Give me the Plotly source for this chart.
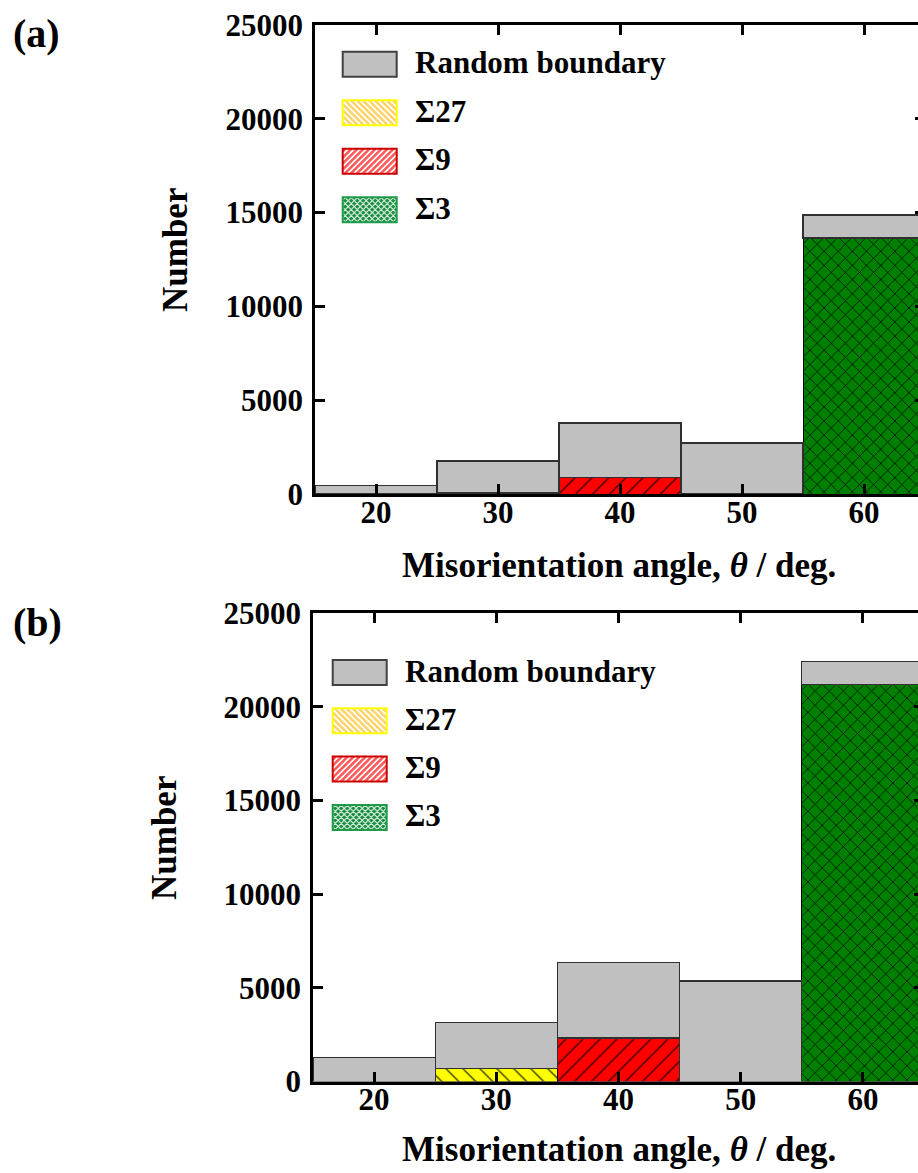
import plotly.graph_objects as go

# ---------------- data ----------------
angles = [20, 30, 40, 50, 60]          # bin centres (deg), bins 10 deg wide
bin_width = 10

# panel (a)
random_a = [440, 1710, 2900, 2720, 1220]
sigma27_a = [0, 50, 0, 0, 0]
sigma9_a = [0, 0, 890, 0, 0]
sigma3_a = [0, 0, 0, 0, 13650]

# panel (b)
random_b = [1280, 2480, 4030, 5370, 1200]
sigma27_b = [0, 690, 0, 0, 0]
sigma9_b = [0, 0, 2320, 0, 0]
sigma3_b = [0, 0, 0, 0, 21210]

x_ticks = [20, 30, 40, 50, 60]
y_ticks = [0, 5000, 10000, 15000, 20000, 25000]
y_tick_text = ["0", "5000", "10000", "15000", "20000", "25000"]
legend_labels = ["Random boundary", "Σ27", "Σ9", "Σ3"]
panel_labels = ["(a)", "(b)"]
x_title = "Misorientation angle, <i>θ</i> / deg."
y_title = "Number"

# ---------------- style ----------------
W, H = 935, 1173
FONT = "Liberation Serif, Times New Roman, serif"
GRAY = "#c0c0c0"
YELLOW = "#ffff00"
RED = "#ff0000"
GREEN = "#008000"


def px(p):
    return p / W


def py(p):
    return 1 - p / H


panels = [
    dict(random=random_a, s27=sigma27_a, s9=sigma9_a, s3=sigma3_a,
         xpx=(315, 925), ypx=(25, 494), xa="x", ya="y",
         label_pos=(11, 33), leg_x=342.7, leg_y0=64.2, leg_dy=48.5, leg_tx=412.5,
         xt_pos=(619, 565), yt_pos=(176, 250)),
    dict(random=random_b, s27=sigma27_b, s9=sigma9_b, s3=sigma3_b,
         xpx=(313, 924), ypx=(613.3, 1081.5), xa="x2", ya="y2",
         label_pos=(11, 622), leg_x=332.7, leg_y0=672.5, leg_dy=48.3, leg_tx=403.3,
         xt_pos=(619, 1149), yt_pos=(164, 838)),
]

fig = go.Figure()

for p in panels:
    specials = [
        (p["s3"], GREEN, "x", 10, 0.14),
        (p["s9"], RED, "/", 12, 0.09),
        (p["s27"], YELLOW, "\\", 12, 0.09),
    ]
    for vals, col, shp, sz, sol in specials:
        xs = [a for a, v in zip(angles, vals) if v > 0]
        ys = [v for v in vals if v > 0]
        fig.add_trace(go.Bar(
            x=xs, y=ys, width=bin_width, xaxis=p["xa"], yaxis=p["ya"],
            showlegend=False,
            marker=dict(color=col, line=dict(color="black", width=1),
                        pattern=dict(shape=shp, fgcolor="black", bgcolor=col,
                                     size=sz, solidity=sol, fillmode="replace")),
        ))
    fig.add_trace(go.Bar(
        x=angles, y=p["random"], width=bin_width, xaxis=p["xa"], yaxis=p["ya"],
        showlegend=False,
        marker=dict(color=GRAY, line=dict(color="#303030", width=1.2)),
    ))

axis_common = dict(showline=True, linewidth=2.5, linecolor="black", mirror="ticks",
                   ticks="inside", ticklen=10, tickwidth=2.5, tickcolor="black",
                   showgrid=False, zeroline=False, automargin=False,
                   tickfont=dict(family=FONT, size=31, color="black", weight="bold"))

layout = dict(width=W, height=H, margin=dict(l=0, r=0, t=0, b=0),
              paper_bgcolor="white", plot_bgcolor="white", barmode="stack",
              showlegend=False)

for i, p in enumerate(panels):
    sx = "" if i == 0 else str(i + 1)
    layout["xaxis" + sx] = dict(axis_common, domain=[px(p["xpx"][0]), px(p["xpx"][1])],
                                range=[15, 65], tickvals=x_ticks,
                                anchor="y" + sx, ticklabelstandoff=-11)
    layout["yaxis" + sx] = dict(axis_common, domain=[py(p["ypx"][1]), py(p["ypx"][0])],
                                range=[0, 25000], tickvals=y_ticks, ticktext=y_tick_text,
                                anchor="x" + sx, ticklabelstandoff=3)

fig.update_layout(**layout)

annotations = []
shapes = []


def hatch(x0, y0, x1, y1, spacing, kind):
    w, h = x1 - x0, y1 - y0
    segs = []
    if kind in ("/", "x"):
        k = spacing / 2
        while k < w + h:
            xa = max(0, k - h); xb = min(w, k)
            segs.append(((x0 + xa, y0 + k - xa), (x0 + xb, y0 + k - xb)))
            k += spacing
    if kind in ("\\", "x"):
        k = -h + spacing / 2
        while k < w:
            xa = max(0, k); xb = min(w, k + h)
            segs.append(((x0 + xa, y0 + xa - k), (x0 + xb, y0 + xb - k)))
            k += spacing
    path = " ".join("M%.5f,%.5f L%.5f,%.5f" % (px(a[0]), py(a[1]), px(b[0]), py(b[1]))
                    for a, b in segs)
    return path


sw, sh = 54, 25
for i, p in enumerate(panels):
    annotations.append(dict(text="<b>%s</b>" % panel_labels[i], xref="paper", yref="paper",
                            x=px(p["label_pos"][0]), y=py(p["label_pos"][1]),
                            xanchor="left", yanchor="middle", showarrow=False,
                            font=dict(family=FONT, size=40, color="black")))
    annotations.append(dict(text="<b>%s</b>" % x_title, xref="paper", yref="paper",
                            x=px(p["xt_pos"][0]), y=py(p["xt_pos"][1]),
                            xanchor="center", yanchor="middle", showarrow=False,
                            font=dict(family=FONT, size=35, color="black")))
    annotations.append(dict(text="<b>%s</b>" % y_title, xref="paper", yref="paper",
                            x=px(p["yt_pos"][0]), y=py(p["yt_pos"][1]), textangle=-90,
                            xanchor="center", yanchor="middle", showarrow=False,
                            font=dict(family=FONT, size=35, color="black")))
    sw_styles = [
        dict(fill=GRAY, border="#404040", hatch=None, hcol=None, hw=0),
        dict(fill="white", border="#ffff00", hatch="\\", hcol="#ffd36b", hw=2.6),
        dict(fill="white", border="#cc0000", hatch="/", hcol="#ff5a5a", hw=2.6),
        dict(fill="#1f8f45", border="#1f9a4a", hatch="x", hcol="#d8f0dc", hw=1.1),
    ]
    for j, lab in enumerate(legend_labels):
        cy = p["leg_y0"] + j * p["leg_dy"]
        x0, x1 = p["leg_x"], p["leg_x"] + sw
        y0, y1 = cy - sh / 2, cy + sh / 2
        st = sw_styles[j]
        shapes.append(dict(type="rect", xref="paper", yref="paper",
                           x0=px(x0), x1=px(x1), y0=py(y1), y1=py(y0),
                           fillcolor=st["fill"], line=dict(width=0)))
        if st["hatch"]:
            shapes.append(dict(type="path", xref="paper", yref="paper",
                               path=hatch(x0, y0, x1, y1, 6, st["hatch"]),
                               line=dict(color=st["hcol"], width=st["hw"])))
        shapes.append(dict(type="rect", xref="paper", yref="paper",
                           x0=px(x0), x1=px(x1), y0=py(y1), y1=py(y0),
                           fillcolor="rgba(0,0,0,0)",
                           line=dict(color=st["border"], width=2)))
        annotations.append(dict(text="<b>%s</b>" % lab, xref="paper", yref="paper",
                                x=px(p["leg_tx"]), y=py(cy - 1.5), xanchor="left",
                                yanchor="middle", showarrow=False,
                                font=dict(family=FONT, size=31, color="black")))

fig.update_layout(annotations=annotations, shapes=shapes)

fig.write_html("out.html", config=dict(displayModeBar=False),
               post_script="document.body.style.margin='0px';document.body.style.overflow='hidden';")
